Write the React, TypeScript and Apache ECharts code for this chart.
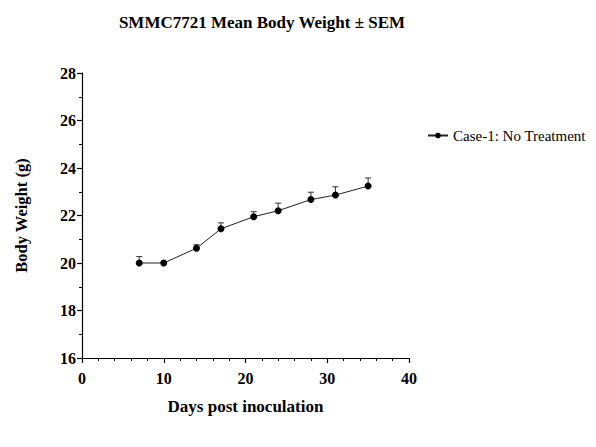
import React, { useEffect, useRef } from "react";
import * as echarts from "echarts";

const days = [7, 10, 14, 17, 21, 24, 28, 31, 35];
const meanWeight = [20.0, 20.0, 20.62, 21.44, 21.95, 22.2, 22.67, 22.86, 23.24];
const sem = [0.27, 0.02, 0.15, 0.25, 0.21, 0.32, 0.31, 0.35, 0.34];
const seriesName = "Case-1: No Treatment";
const titleText = "SMMC7721 Mean Body Weight ± SEM";

const FONT = "'Liberation Serif', 'Times New Roman', serif";

export default function App() {
  const ref = useRef<HTMLDivElement>(null);
  useEffect(() => {
    if (!ref.current) return;
    const chart = echarts.init(ref.current, undefined, { renderer: "svg" });
    const lineData = days.map((d, i) => [d, meanWeight[i]]);
    const errData = days.map((d, i) => [d, meanWeight[i], meanWeight[i] + sem[i]]);
    chart.setOption({
      animation: false,
      backgroundColor: "#ffffff",
      title: {
        text: titleText,
        left: 257,
        textAlign: "center",
        top: 9,
        textStyle: { fontFamily: FONT, fontSize: 17, fontWeight: "bold", color: "#000" },
      },
      legend: {
        left: 422,
        top: 123,
        orient: "vertical",
        itemWidth: 20,
        itemHeight: 7,
        itemGap: 8,
        data: [{ name: seriesName }],
        textStyle: { fontFamily: FONT, fontSize: 15, color: "#000" },
      },
      grid: { left: 82, right: 187, top: 73, bottom: 89, containLabel: false },
      xAxis: {
        type: "value",
        min: 0,
        max: 40,
        interval: 10,
        name: "Days post inoculation",
        nameLocation: "middle",
        nameGap: 40,
        nameTextStyle: { fontFamily: FONT, fontSize: 17, fontWeight: "bold", color: "#000" },
        axisLine: { show: true, lineStyle: { color: "#000", width: 1.2 } },
        axisTick: { show: true, inside: false, length: 5, lineStyle: { color: "#000", width: 1.2 } },
        minorTick: { show: true, splitNumber: 5, length: 3, lineStyle: { color: "#000", width: 1 } },
        axisLabel: { fontFamily: FONT, fontSize: 16, fontWeight: "bold", color: "#000", margin: 12 },
        splitLine: { show: false },
      },
      yAxis: {
        type: "value",
        min: 16,
        max: 28,
        interval: 2,
        name: "Body Weight (g)",
        nameLocation: "middle",
        nameGap: 52,
        nameTextStyle: { fontFamily: FONT, fontSize: 16.5, fontWeight: "bold", color: "#000" },
        axisLine: { show: true, lineStyle: { color: "#000", width: 1.2 } },
        axisTick: { show: true, inside: false, length: 5, lineStyle: { color: "#000", width: 1.2 } },
        minorTick: { show: true, splitNumber: 2, length: 3, lineStyle: { color: "#000", width: 1 } },
        axisLabel: { fontFamily: FONT, fontSize: 16, fontWeight: "bold", color: "#000", margin: 6 },
        splitLine: { show: false },
      },
      series: [
        {
          type: "custom",
          name: "err",
          silent: true,
          data: errData,
          z: 1,
          renderItem: (params: any, api: any) => {
            const x = api.value(0);
            const lo = api.coord([x, api.value(1)]);
            const hi = api.coord([x, api.value(2)]);
            const cap = 3;
            return {
              type: "group",
              children: [
                {
                  type: "line",
                  shape: { x1: lo[0], y1: lo[1], x2: hi[0], y2: hi[1] },
                  style: { stroke: "#333", lineWidth: 1 },
                },
                {
                  type: "line",
                  shape: { x1: hi[0] - cap, y1: hi[1], x2: hi[0] + cap, y2: hi[1] },
                  style: { stroke: "#333", lineWidth: 1 },
                },
              ],
            };
          },
        },
        {
          type: "line",
          name: seriesName,
          data: lineData,
          symbol: "circle",
          symbolSize: 7,
          z: 2,
          itemStyle: { color: "#000" },
          lineStyle: { color: "#222", width: 1 },
        },
      ],
    });
    return () => chart.dispose();
  }, []);
  return <div ref={ref} style={{ width: 596, height: 447, margin: -8 }} />;
}
